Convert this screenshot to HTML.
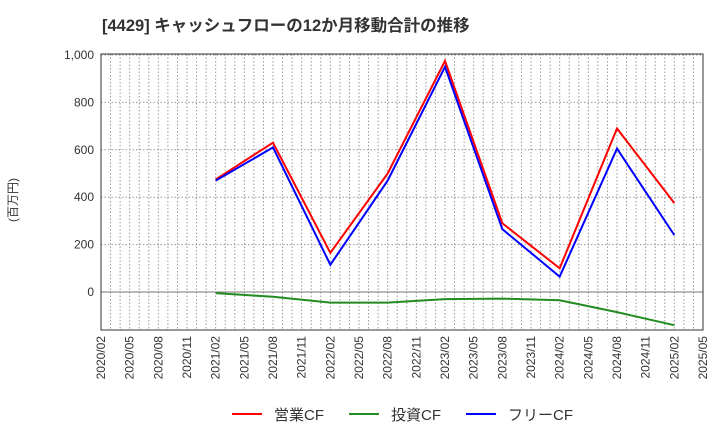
<!DOCTYPE html>
<html><head><meta charset="utf-8"><style>
body{margin:0;background:#fff;font-family:"Liberation Sans","Noto Sans CJK JP",sans-serif;}
</style></head><body>
<svg id="c" width="720" height="440" xmlns="http://www.w3.org/2000/svg">
<text x="102" y="31" font-size="16.5" font-weight="bold" fill="#333" font-family="Liberation Sans, Noto Sans CJK JP, sans-serif">[4429]  キャッシュフローの12か月移動合計の推移</text>
<text transform="translate(17,200) rotate(-90)" font-size="12" fill="#333" text-anchor="middle" font-family="Liberation Sans, Noto Sans CJK JP, sans-serif">(百万円)</text>
<g id="grid"></g><g id="axes"></g><g id="series"></g>
<g font-size="15" fill="#333" font-family="Liberation Sans, Noto Sans CJK JP, sans-serif">
<line x1="232" y1="414" x2="262" y2="414" stroke="#f00" stroke-width="2"/><text x="274" y="420">営業CF</text>
<line x1="349" y1="414" x2="379" y2="414" stroke="#228b22" stroke-width="2"/><text x="391" y="420">投資CF</text>
<line x1="466" y1="414" x2="496" y2="414" stroke="#00f" stroke-width="2"/><text x="508" y="420">フリーCF</text>
</g>
</svg>
<script>
const xLabels=["2020/02","2020/05","2020/08","2020/11","2021/02","2021/05","2021/08","2021/11","2022/02","2022/05","2022/08","2022/11","2023/02","2023/05","2023/08","2023/11","2024/02","2024/05","2024/08","2024/11","2025/02","2025/05"];
const yTicks=[0,200,400,600,800,1000];
const yTickLabels=["0","200","400","600","800","1,000"];
const pointIdx=[4,6,8,10,12,14,16,18,20];
const opCF=[475,630,165,500,975,290,100,690,375];
const invCF=[-5,-20,-45,-45,-30,-28,-35,-85,-140];
const freeCF=[470,610,115,470,950,265,65,605,240];
const L=101,R=703,T=54,B=330;
const ns="http://www.w3.org/2000/svg";
const X=i=>L+i*(R-L)/21;
const Y=v=>292-v*(292-55)/1000;
function mk(p,t,a){const e=document.createElementNS(ns,t);for(const k in a)e.setAttribute(k,a[k]);p.appendChild(e);return e;}
const g=document.getElementById('grid'),ax=document.getElementById('axes'),s=document.getElementById('series');
for(let m=1;m<63;m++){const x=L+m*(R-L)/63;
const l=mk(g,'line',{x1:x,y1:T,x2:x,y2:B,stroke:'#999','stroke-dasharray':'1.5,2','stroke-width':1});

}
yTicks.forEach((v,i)=>{const y=Y(v);
const l=mk(g,'line',{x1:L,y1:y,x2:R,y2:y,stroke:v===0?'#777':'#999','stroke-dasharray':v===0?'none':'1.5,2','stroke-width':1});


const t=mk(ax,'text',{x:L-7,y:y+4,'font-size':12,fill:'#333','text-anchor':'end'});t.textContent=yTickLabels[i];

});
xLabels.forEach((lab,i)=>{const x=X(i);
const t=mk(ax,'text',{transform:`translate(${x+4},${B+6}) rotate(-90)`,'font-size':12,fill:'#333','text-anchor':'end'});t.textContent=lab;

});
const f=mk(ax,'rect',{x:L,y:T,width:R-L,height:B-T,fill:'none',stroke:'#333','stroke-width':1});


[[invCF,'#228b22','investing-cf-line'],[opCF,'#f00','operating-cf-line'],[freeCF,'#00f','free-cf-line']].forEach(([d,c,n])=>{
const p=mk(s,'polyline',{points:d.map((v,i)=>X(pointIdx[i])+','+Y(v)).join(' '),fill:'none',stroke:c,'stroke-width':2});

});
</script>
</body></html>
